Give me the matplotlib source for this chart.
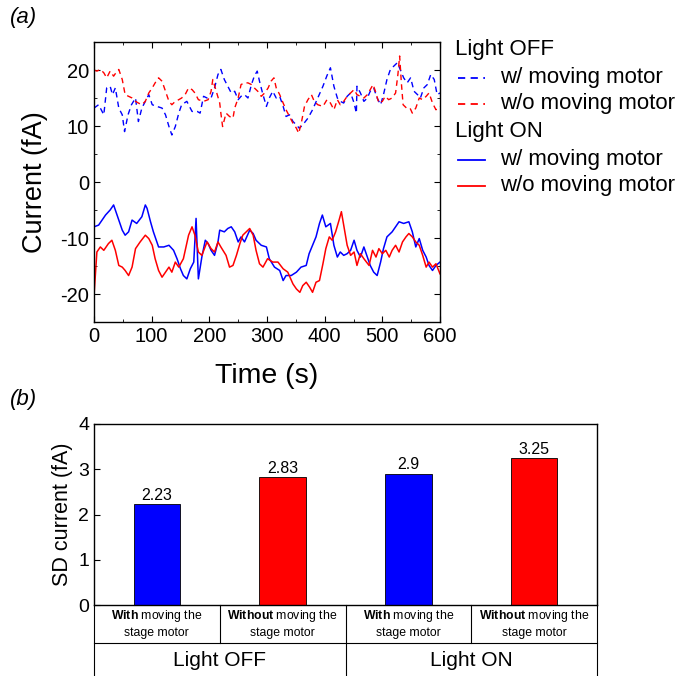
"""
Two-panel figure: current traces vs time (a) and SD current bars (b).
"""

import matplotlib
matplotlib.use("Agg")
import matplotlib.pyplot as plt
from matplotlib.lines import Line2D
import matplotlib.transforms as mtransforms

plt.rcParams['font.family'] = ['Liberation Sans', 'DejaVu Sans']
plt.rcParams['mathtext.fontset'] = 'custom'
plt.rcParams['mathtext.rm'] = 'Liberation Sans'
plt.rcParams['mathtext.bf'] = 'Liberation Sans:bold'
plt.rcParams['axes.unicode_minus'] = False

# ---------------- Data: panel (a) ----------------
# Light OFF, w/ moving motor (dashed blue)
off_with_t = [0, 8, 17, 22, 28, 32, 37, 43, 49, 53, 59, 65, 72, 77, 83, 89, 95, 101, 109, 118,
              124, 130, 135, 141, 147, 152, 161, 170, 179, 184, 190, 196, 203, 209, 215, 220,
              226, 232, 238, 244, 250, 255, 261, 267, 273, 278, 283, 287, 293, 299, 304, 310,
              316, 322, 328, 333, 339, 345, 351, 356, 362, 371, 379, 388, 397, 404, 410, 416,
              422, 427, 433, 439, 445, 451, 455, 456, 462, 468, 474, 479, 485, 491, 497, 502,
              508, 514, 520, 526, 531, 537, 543, 549, 555, 561, 566, 572, 578, 584, 590, 595, 600]
off_with_i = [13.2, 13.8, 12.0, 16.8, 17.1, 15.6, 16.8, 13.2, 12.0, 9.0, 12.0, 13.8, 15.0, 10.8,
              13.2, 14.4, 15.6, 13.8, 13.5, 13.2, 12.0, 9.9, 8.4, 9.9, 12.3, 13.8, 14.4, 12.6,
              12.6, 12.3, 15.3, 15.0, 15.0, 16.8, 19.2, 20.1, 18.3, 17.1, 15.9, 16.2, 14.7,
              15.3, 15.6, 15.0, 17.4, 18.9, 19.8, 18.0, 15.6, 13.5, 15.0, 16.2, 15.0, 15.3,
              13.5, 11.7, 12.0, 10.8, 10.2, 9.6, 10.2, 11.4, 12.9, 15.0, 17.1, 19.0, 20.4,
              17.1, 15.0, 14.4, 14.1, 15.3, 15.9, 14.1, 12.3, 17.1, 15.9, 14.4, 15.0, 16.2,
              16.8, 15.0, 13.8, 15.6, 18.3, 20.1, 20.7, 21.3, 20.1, 18.6, 17.7, 18.6, 16.2,
              15.6, 15.0, 16.8, 17.4, 19.2, 18.3, 15.6, 15.9]

# Light OFF, w/o moving motor (dashed red)
off_without_t = [0, 5, 11, 17, 22, 28, 34, 38, 43, 49, 54, 60, 66, 72, 77, 83, 89, 95, 101, 106,
                 112, 118, 124, 130, 135, 141, 147, 152, 158, 164, 170, 175, 181, 190, 198, 203,
                 206, 212, 218, 220, 223, 229, 235, 241, 244, 250, 255, 261, 267, 273, 278, 284,
                 290, 296, 302, 307, 312, 316, 322, 328, 333, 339, 345, 351, 355, 360, 365, 371,
                 377, 382, 388, 397, 404, 410, 416, 422, 427, 433, 439, 445, 451, 456, 462, 468,
                 474, 479, 484, 488, 494, 500, 505, 511, 517, 523, 527, 530, 533, 536, 542, 548,
                 552, 558, 564, 570, 576, 581, 587, 593, 600]
off_without_i = [20.0, 19.8, 20.1, 19.5, 18.6, 19.8, 18.9, 19.5, 20.1, 18.3, 15.6, 15.3, 15.0,
                 14.4, 14.1, 13.8, 14.4, 15.9, 16.8, 17.7, 18.6, 18.0, 16.2, 14.4, 13.8, 14.4,
                 14.7, 15.0, 15.6, 16.8, 16.5, 15.9, 14.7, 14.4, 14.7, 16.2, 18.3, 16.2, 14.1,
                 12.3, 9.9, 12.3, 11.7, 11.4, 13.2, 15.0, 17.4, 17.7, 17.7, 17.4, 16.8, 16.2,
                 15.3, 15.9, 16.8, 18.0, 18.6, 16.8, 15.6, 14.1, 12.9, 11.7, 10.5, 9.6, 8.7,
                 10.8, 13.5, 14.7, 15.6, 14.4, 13.8, 13.5, 14.7, 14.1, 12.9, 14.7, 13.8, 14.4,
                 15.3, 15.9, 16.5, 15.6, 15.3, 15.0, 15.6, 16.5, 17.4, 16.2, 14.1, 14.4, 15.3,
                 14.7, 15.0, 15.9, 19.2, 22.5, 17.7, 13.8, 13.2, 13.2, 12.3, 13.2, 15.0, 14.7,
                 15.3, 15.9, 14.1, 12.9, 13.5]

# Light ON, w/ moving motor (solid blue)
on_with_t = [0, 8, 20, 28, 34, 40, 49, 54, 60, 66, 74, 83, 89, 92, 98, 103, 112, 121, 130, 138,
             144, 150, 155, 161, 167, 173, 177, 181, 187, 193, 198, 203, 209, 215, 218, 226, 232,
             238, 244, 250, 255, 261, 270, 276, 281, 290, 299, 304, 313, 322, 328, 333, 342, 351,
             359, 368, 373, 379, 385, 391, 396, 402, 410, 416, 422, 427, 433, 439, 445, 451, 456,
             462, 468, 474, 479, 485, 491, 497, 502, 508, 517, 523, 529, 537, 546, 552, 558, 564,
             570, 576, 581, 587, 593, 600]
on_with_i = [-8.0, -7.7, -5.9, -5.0, -4.1, -5.9, -8.6, -9.5, -8.9, -6.8, -7.4, -6.2, -4.1, -4.7,
             -7.1, -8.9, -11.6, -11.6, -11.3, -12.2, -13.7, -15.5, -16.7, -17.3, -15.5, -14.3,
             -6.5, -17.3, -13.4, -10.4, -11.0, -12.2, -13.1, -10.7, -8.6, -8.9, -8.3, -8.0, -8.9,
             -10.7, -9.8, -10.7, -8.6, -9.2, -10.4, -11.3, -11.6, -13.7, -15.2, -15.8, -17.6,
             -16.7, -16.7, -16.1, -15.2, -14.9, -12.8, -11.3, -9.8, -7.4, -5.9, -8.0, -7.4,
             -11.3, -13.4, -12.5, -13.1, -12.8, -12.2, -10.4, -12.2, -13.4, -11.6, -13.4, -14.9,
             -16.1, -16.7, -14.3, -11.9, -9.8, -8.9, -8.0, -7.1, -7.4, -7.1, -8.9, -11.6, -10.1,
             -12.2, -13.4, -14.9, -15.8, -14.9, -14.3]

# Light ON, w/o moving motor (solid red)
on_without_t = [0, 5, 11, 17, 25, 31, 37, 43, 49, 54, 60, 66, 72, 80, 89, 95, 101, 106, 112, 118,
                124, 130, 135, 141, 147, 155, 164, 170, 175, 181, 187, 196, 203, 209, 215, 220,
                229, 235, 241, 247, 253, 258, 264, 270, 276, 281, 287, 293, 301, 310, 319, 328,
                336, 345, 351, 357, 362, 368, 374, 379, 385, 391, 397, 402, 408, 413, 419, 425,
                429, 433, 439, 445, 451, 456, 462, 468, 477, 483, 489, 494, 500, 506, 512, 517,
                523, 529, 535, 541, 546, 552, 558, 564, 570, 576, 581, 587, 593, 600]
on_without_i = [-20.3, -12.5, -11.6, -12.2, -11.0, -10.4, -12.2, -14.9, -15.2, -15.8, -16.7,
                -15.2, -11.9, -10.7, -9.5, -10.1, -11.3, -13.7, -15.8, -17.0, -16.1, -15.2, -16.1,
                -14.3, -15.2, -13.7, -9.5, -8.0, -9.5, -12.5, -13.1, -10.7, -11.9, -12.5, -10.7,
                -11.6, -13.1, -15.2, -14.9, -13.1, -11.0, -9.5, -8.9, -8.3, -9.5, -12.2, -14.6,
                -15.2, -13.7, -14.3, -14.3, -15.5, -16.1, -18.2, -19.1, -19.7, -18.5, -17.9,
                -18.8, -19.7, -17.9, -17.6, -14.6, -11.9, -9.8, -10.4, -8.9, -6.8, -5.3, -7.7,
                -11.3, -13.1, -12.5, -14.9, -12.8, -13.7, -14.9, -12.2, -13.4, -11.9, -12.8,
                -12.2, -13.4, -12.2, -11.3, -12.5, -10.7, -9.8, -9.2, -9.8, -10.7, -11.3, -13.1,
                -15.2, -14.3, -15.2, -14.6, -16.4]

# ---------------- Data: panel (b) ----------------
sd_values = [2.23, 2.83, 2.9, 3.25]
bar_colors = ['#0000FF', '#FF0000', '#0000FF', '#FF0000']
bold_words = ['With', 'Without', 'With', 'Without']
groups = ['Light OFF', 'Light ON']

BLUE = '#0000FF'
RED = '#FF0000'

fig = plt.figure(figsize=(6.79, 6.76), dpi=100)

# ---------------- Panel (a) ----------------
ax1 = fig.add_axes([94 / 679, 1 - 322 / 676, 346 / 679, 280 / 676])
dash = (0, (4, 3))
ax1.plot(off_with_t, off_with_i, color=BLUE, lw=1.0, linestyle=dash)
ax1.plot(off_without_t, off_without_i, color=RED, lw=1.0, linestyle=dash)
ax1.plot(on_with_t, on_with_i, color=BLUE, lw=1.1)
ax1.plot(on_without_t, on_without_i, color=RED, lw=1.1)

ax1.set_xlim(0, 600)
ax1.set_ylim(-25, 25)
ax1.set_xticks([0, 100, 200, 300, 400, 500, 600])
ax1.set_xticks(range(50, 600, 100), minor=True)
ax1.set_yticks([-20, -10, 0, 10, 20])
ax1.set_yticks([-15, -5, 5, 15], minor=True)
ax1.tick_params(which='both', direction='in', top=True, right=True, labelsize=14.5)
ax1.tick_params(which='major', length=4)
ax1.tick_params(which='minor', length=2.5)
ax1.set_xlabel('Time (s)', fontsize=20.5, labelpad=12)
ax1.set_ylabel('Current (fA)', fontsize=19.5, labelpad=9)
for sp in ax1.spines.values():
    sp.set_linewidth(1.0)

# manual legend
def fy(px):
    return 1 - px / 676

def fx(px):
    return px / 679

fig.text(fx(455), fy(50), 'Light OFF', fontsize=16, va='center', ha='left')
fig.text(fx(455), fy(132), 'Light ON', fontsize=16, va='center', ha='left')
legend_rows = [(78, BLUE, dash, 'w/ moving motor'),
               (104, RED, dash, 'w/o moving motor'),
               (160, BLUE, '-', 'w/ moving motor'),
               (186, RED, '-', 'w/o moving motor')]
for ypx, col, ls, label in legend_rows:
    fig.add_artist(Line2D([fx(458), fx(485)], [fy(ypx), fy(ypx)], color=col,
                          linestyle=ls, lw=1.3, transform=fig.transFigure))
    fig.text(fx(500), fy(ypx), label, fontsize=16, va='center', ha='left')

fig.text(fx(10), fy(18), '(a)', fontsize=16, style='italic', va='center', ha='left')
fig.text(fx(10), fy(400), '(b)', fontsize=16, style='italic', va='center', ha='left')

# ---------------- Panel (b) ----------------
ax2 = fig.add_axes([94 / 679, 1 - 605 / 676, 503 / 679, 181 / 676])
x = list(range(len(sd_values)))
bars = ax2.bar(x, sd_values, width=0.37, color=bar_colors, edgecolor='black', linewidth=0.6)
for xi, v in zip(x, sd_values):
    ax2.text(xi, v + 0.03, f'{v:g}', ha='center', va='bottom', fontsize=11.5)

ax2.set_xlim(-0.5, 3.5)
ax2.set_ylim(0, 4)
ax2.set_yticks([0, 1, 2, 3, 4])
ax2.set_xticks([])
ax2.tick_params(axis='y', direction='in', labelsize=14, length=4)
ax2.set_ylabel('SD current (fA)', fontsize=15.5, labelpad=4)
for sp in ax2.spines.values():
    sp.set_linewidth(1.0)

# table below the bar axis
trans = mtransforms.blended_transform_factory(ax2.transData, ax2.transAxes)
row1_bottom = -38 / 181
row2_bottom = -75 / 181
line_kw = dict(color='black', lw=0.8, clip_on=False)
for xe in [-0.5, 3.5]:
    ax2.add_artist(Line2D([xe, xe], [0, row2_bottom], transform=trans, **line_kw))
for xd in [0.5, 1.5, 2.5]:
    ax2.add_artist(Line2D([xd, xd], [0, row1_bottom], transform=trans, **line_kw))
ax2.add_artist(Line2D([1.5, 1.5], [row1_bottom, row2_bottom], transform=trans, **line_kw))
ax2.add_artist(Line2D([-0.5, 3.5], [row1_bottom, row1_bottom], transform=trans, **line_kw))

for xi, word in zip(x, bold_words):
    ax2.text(xi, row1_bottom * 0.30, r'$\bf{' + word + '}$ moving the', transform=trans,
             ha='center', va='center', fontsize=8.8)
    ax2.text(xi, row1_bottom * 0.74, 'stage motor', transform=trans,
             ha='center', va='center', fontsize=8.8)

for gi, g in enumerate(groups):
    ax2.text(0.5 + 2 * gi, (row1_bottom + row2_bottom) / 2 + 0.005, g, transform=trans,
             ha='center', va='center', fontsize=15)

fig.savefig('out.png', dpi=100)
